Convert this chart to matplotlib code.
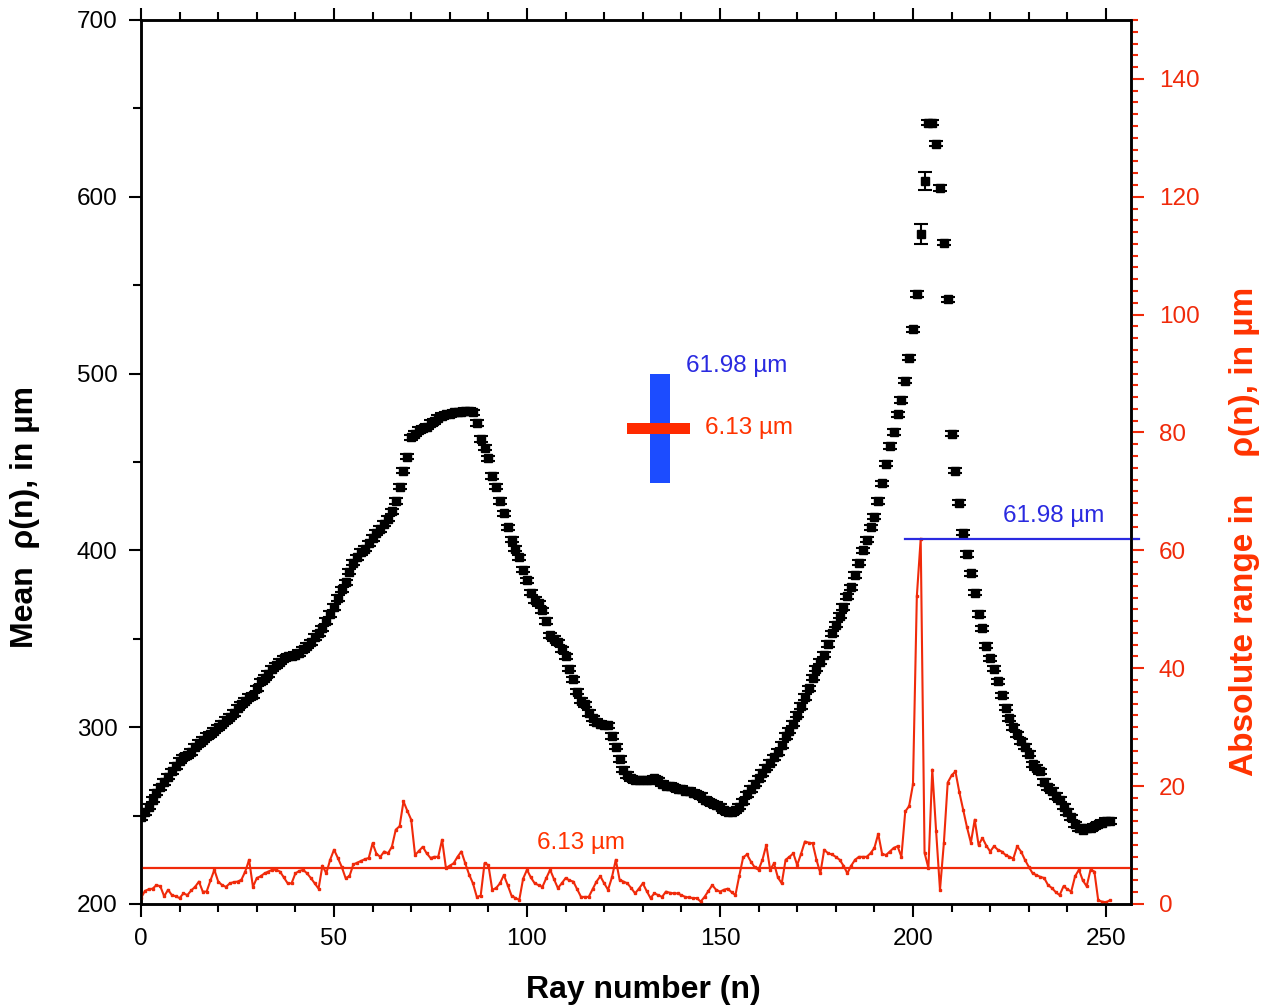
import numpy as np
import matplotlib
matplotlib.use("Agg")
import matplotlib.pyplot as plt
from matplotlib.ticker import MultipleLocator

plt.rcParams['font.family'] = ['Liberation Sans', 'DejaVu Sans']

# mean radius per ray (um), rays 0..251
mean_rho = [
    249, 252, 255, 259, 263, 266, 269, 272, 275, 278,
    281, 283, 284, 286, 289, 291, 293, 295, 296, 298,
    300, 302, 304, 306, 308, 311, 313, 315, 317, 318,
    322, 326, 328, 330, 333, 335, 337, 339, 340, 340,
    341, 342, 344, 346, 348, 351, 353, 356, 360, 364,
    368, 373, 378, 382, 388, 393, 396, 399, 401, 404,
    407, 410, 412, 415, 418, 422, 428, 436, 445, 453,
    464, 466, 468, 469, 470, 472, 473, 475, 476, 477,
    477, 478, 478, 478, 479, 479, 478, 472, 463, 458,
    452, 442, 436, 428, 421, 413, 406, 401, 396, 389,
    383, 376, 372, 370, 366, 360, 352, 350, 348, 344,
    340, 333, 327, 320, 315, 313, 308, 305, 303, 302,
    301, 301, 295, 289, 282, 276, 273, 271, 270, 270,
    270, 270, 270, 271, 270, 268, 267, 267, 266, 265,
    265, 264, 264, 263, 262, 261, 259, 258, 257, 256,
    255, 253, 252, 252, 253, 255, 258, 262, 265, 268,
    271, 274, 277, 280, 283, 286, 290, 295, 298, 302,
    307, 312, 317, 322, 328, 333, 337, 341, 347, 353,
    358, 363, 368, 374, 379, 386, 393, 400, 406, 413,
    419, 428, 438, 449, 459, 467, 477, 485, 496, 509,
    525, 545, 579, 609, 642, 642, 630, 605, 574, 542,
    466, 445, 427, 410, 398, 387, 376, 364, 356, 346,
    339, 333, 326, 318, 311, 305, 300, 296, 292, 289,
    285, 279, 277, 275, 269, 266, 264, 261, 259, 255,
    252, 249, 245, 243, 242, 243, 243, 244, 245, 246,
    247, 247,
]

# absolute range of rho per ray (um)
abs_range = [
    1.0, 2.2, 2.5, 2.6, 3.2, 3.0, 1.3, 2.4, 1.5, 1.3,
    1.0, 1.8, 1.5, 2.3, 2.9, 3.8, 2.1, 2.1, 4.0, 5.8,
    3.8, 3.2, 2.9, 3.5, 3.7, 3.8, 4.1, 5.5, 7.5, 2.9,
    4.4, 4.7, 5.2, 5.5, 5.8, 5.8, 5.5, 4.5, 3.5, 3.5,
    5.2, 5.6, 5.8, 5.2, 4.4, 3.5, 2.6, 6.5, 5.2, 7.5,
    9.2, 7.8, 6.3, 4.4, 4.7, 6.7, 7.0, 7.3, 7.6, 7.8,
    10.3, 8.5, 8.0, 8.9, 8.6, 9.7, 12.6, 13.2, 17.4, 15.8,
    14.3, 8.3, 9.0, 9.7, 8.6, 7.8, 8.0, 8.0, 10.9, 6.1,
    6.5, 6.9, 8.0, 8.9, 6.9, 5.0, 3.5, 1.2, 1.4, 6.9,
    6.6, 2.4, 2.7, 3.5, 4.9, 3.2, 1.4, 1.0, 0.7, 4.3,
    5.8, 4.5, 3.5, 3.2, 2.9, 4.4, 5.8, 4.2, 2.7, 3.5,
    4.4, 4.0, 3.8, 2.5, 1.2, 1.2, 1.2, 2.5, 3.8, 4.7,
    3.5, 2.4, 4.5, 7.5, 4.1, 3.8, 3.5, 2.7, 1.8, 2.6,
    3.5, 2.2, 1.0, 1.8, 1.5, 1.2, 2.1, 1.9, 1.8, 1.8,
    1.5, 1.2, 1.1, 1.0, 1.0, 0.4, 1.2, 2.2, 3.2, 2.4,
    2.1, 2.4, 2.6, 2.0, 1.5, 4.8, 7.9, 8.4, 7.2, 6.2,
    5.8, 7.5, 10.0, 5.8, 6.9, 4.5, 3.5, 7.5, 8.0, 8.6,
    6.6, 8.5, 10.6, 10.4, 10.3, 7.5, 5.2, 9.2, 8.6, 8.4,
    8.0, 7.5, 6.5, 5.2, 6.5, 7.5, 8.0, 8.0, 8.0, 8.6,
    9.5, 11.9, 8.5, 8.3, 8.9, 9.5, 9.8, 8.0, 15.7, 16.6,
    20.3, 52.2, 61.98, 8.7, 6.1, 22.8, 12.3, 2.4, 10.3, 20.6,
    21.8, 22.5, 19.0, 16.0, 13.0, 10.4, 14.3, 10.0, 11.2, 9.9,
    8.9, 9.8, 9.2, 8.9, 8.3, 8.0, 7.7, 9.8, 8.9, 7.5,
    6.3, 5.2, 4.9, 4.6, 4.4, 3.2, 2.7, 2.0, 1.5, 3.0,
    2.5, 2.1, 4.7, 5.8, 4.0, 3.0, 5.8, 5.5, 0.6, 0.4,
    0.3, 0.6,
]

ray = np.arange(len(mean_rho))

# error bars: small everywhere, wider at the two noisy rays near the peak
err = np.full(len(mean_rho), 1.5)
err[[202, 203]] = [5.8, 5.2]

max_range = 61.98
mean_range = 6.13

RED = '#f02a0a'
RED_TXT = '#ff3300'
BLUE = '#2a2ae0'
BLUE_BAR = '#1c4cff'

fig = plt.figure(figsize=(12.67, 10.08), dpi=100)
ax = fig.add_axes([0.1113, 0.1032, 0.7814, 0.8770])

ax.errorbar(ray, mean_rho, yerr=err, fmt='s', color='black', ms=6.3,
            elinewidth=1.5, capsize=5, capthick=1.5, zorder=3)

ax.set_xlim(0, 256.5)
ax.set_ylim(200, 700)
ax.xaxis.set_major_locator(MultipleLocator(50))
ax.xaxis.set_minor_locator(MultipleLocator(10))
ax.yaxis.set_major_locator(MultipleLocator(100))
ax.yaxis.set_minor_locator(MultipleLocator(50))
ax.tick_params(which='both', direction='out', top=True, right=False,
               width=1.5, labelsize=17.5)
ax.tick_params(which='major', length=9)
ax.tick_params(which='minor', length=6)
ax.tick_params(axis='y', pad=8)
ax.tick_params(axis='x', pad=8)
for sp in ax.spines.values():
    sp.set_linewidth(1.8)

# scale bars in mean-rho units
ax.bar(134.5, max_range, width=5.2, bottom=500 - max_range, color=BLUE_BAR, zorder=4)
ax.bar(134.0, mean_range, width=16.3, bottom=469 - mean_range / 2, color='#ff2a00', zorder=5)
ax.text(141.2, 504, '61.98 µm', color=BLUE, fontsize=17.5, ha='left', va='center')
ax.text(146.1, 469, '6.13 µm', color=RED_TXT, fontsize=17.5, ha='left', va='center')

ax2 = ax.twinx()
ax2.plot(ray, abs_range, color=RED, lw=1.5, marker='s', ms=1.8, zorder=2)
ax2.axhline(mean_range, color=RED, lw=1.6)
ax2.plot([198, 258.5], [max_range, max_range], color=BLUE, lw=1.6, clip_on=False)
ax2.text(223.3, 65.9, '61.98 µm', color=BLUE, fontsize=17.5, ha='left', va='center')
ax2.text(102.6, 10.4, '6.13 µm', color=RED_TXT, fontsize=17.5, ha='left', va='center')

ax2.set_ylim(0, 150)
ax2.yaxis.set_major_locator(MultipleLocator(20))
ax2.yaxis.set_minor_locator(MultipleLocator(2))
ax2.tick_params(which='both', direction='out', colors=RED, labelcolor=RED,
                width=1.5, labelsize=17.5, pad=11)
ax2.tick_params(which='major', length=9)
ax2.tick_params(which='minor', length=5)
for sp in ax2.spines.values():
    sp.set_linewidth(1.8)

fig.text(0.0197, 0.487, 'Mean  ρ(n), in µm', rotation=90, fontsize=23,
         fontweight='bold', ha='center', va='center')
fig.text(0.9826, 0.473, 'Absolute range in    ρ(n), in µm', rotation=90,
         fontsize=24, fontweight='bold', color=RED_TXT, ha='center', va='center')
fig.text(0.5075, 0.018, 'Ray number (n)', fontsize=23, fontweight='bold',
         ha='center', va='center')

fig.savefig('out.png', dpi=100)
